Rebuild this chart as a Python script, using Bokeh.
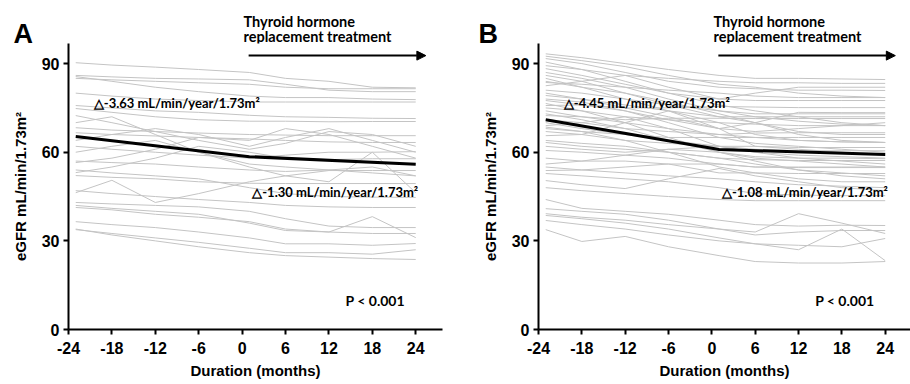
from bokeh.plotting import figure
from bokeh.models import Range1d, FixedTicker, Label, Arrow, NormalHead
from bokeh.layouts import row, column
from bokeh.core.properties import value
from bokeh.embed import file_html
from bokeh.resources import INLINE

# ---------------- data ----------------
months = [-23, -18, -12, -6, 1, 6, 12, 18, 24]
x_ticks = [-24, -18, -12, -6, 0, 6, 12, 18, 24]
x_tick_labels = ["-24", "-18", "-12", "-6", "0", "6", "12", "18", "24"]
y_ticks = [0, 30, 60, 90]
y_tick_labels = ["0", "30", "60", "90"]

mean_months = [-23, 1, 24]
mean_a = [65.3, 58.5, 55.9]
mean_b = [71.0, 60.9, 59.2]

patients_a = [
    [90.3, 89.5, 88.8, 88.0, 87.0, 85.0, 84.0, 82.0, 81.8],
    [86.0, 85.5, 85.0, 84.8, 84.5, 83.0, 81.0, 80.5, 80.5],
    [85.6, 84.0, 82.0, 80.5, 79.0, 78.5, 78.5, 78.0, 77.8],
    [85.0, 84.5, 84.0, 83.5, 83.0, 82.0, 81.5, 81.5, 81.5],
    [75.8, 75.0, 74.0, 73.5, 72.5, 72.0, 71.8, 71.5, 71.4],
    [74.8, 73.5, 72.0, 71.0, 70.5, 70.5, 70.3, 70.4, 70.4],
    [72.4, 70.0, 67.0, 64.0, 61.0, 63.0, 67.0, 66.0, 62.0],
    [68.3, 67.5, 67.0, 66.5, 66.0, 65.8, 65.6, 65.6, 65.6],
    [66.6, 66.0, 65.5, 65.0, 64.5, 64.0, 63.5, 63.3, 63.3],
    [56.5, 58.0, 61.0, 65.0, 64.0, 68.0, 66.0, 62.0, 58.0],
    [53.1, 55.0, 58.0, 62.0, 60.0, 58.0, 57.5, 57.8, 57.8],
    [52.1, 51.5, 51.0, 50.0, 49.5, 49.4, 49.4, 49.4, 49.4],
    [46.3, 50.5, 43.0, 46.0, 50.0, 52.0, 53.8, 53.8, 53.8],
    [43.0, 42.5, 42.0, 41.5, 40.0, 37.5, 35.0, 34.5, 34.5],
    [41.3, 40.5, 39.0, 38.0, 36.5, 34.0, 33.0, 38.2, 31.1],
    [36.5, 35.5, 34.5, 33.0, 31.0, 29.0, 29.0, 28.5, 29.1],
    [33.8, 32.5, 31.0, 29.5, 27.5, 26.0, 26.0, 25.5, 27.0],
    [34.0, 32.0, 30.0, 28.0, 26.0, 25.0, 24.5, 24.0, 23.7],
    [42.0, 41.0, 40.0, 39.0, 36.0, 33.5, 33.0, 32.5, 32.5],
    [70.0, 72.0, 66.0, 60.0, 56.0, 55.0, 54.0, 55.0, 52.0],
    [62.0, 61.0, 60.0, 59.0, 58.0, 59.0, 60.0, 60.0, 60.2],
    [57.0, 56.5, 56.0, 55.0, 54.0, 53.5, 54.0, 53.0, 52.0],
    [54.0, 53.0, 52.0, 51.0, 48.0, 46.0, 45.0, 44.8, 44.7],
    [64.0, 66.0, 68.0, 66.0, 62.0, 65.0, 68.0, 64.0, 60.0],
    [47.0, 46.0, 45.0, 44.0, 43.0, 42.0, 41.5, 41.3, 41.3],
    [60.0, 62.0, 64.0, 60.0, 55.0, 52.0, 50.0, 60.0, 46.3],
    [80.0, 79.0, 78.0, 77.5, 77.0, 77.0, 77.0, 77.0, 77.0],
]

patients_b = [
    [93.3, 92.0, 90.0, 88.0, 86.0, 85.0, 85.0, 84.8, 84.6],
    [91.7, 90.0, 87.0, 84.0, 82.0, 81.5, 81.0, 81.0, 80.9],
    [89.3, 88.0, 86.0, 85.0, 84.0, 83.5, 83.5, 83.3, 83.3],
    [88.3, 86.0, 83.0, 80.0, 76.0, 74.0, 72.0, 70.0, 69.0],
    [83.6, 83.0, 82.0, 81.0, 80.0, 79.0, 78.5, 78.5, 78.5],
    [82.5, 84.0, 86.0, 82.0, 78.0, 77.5, 77.5, 77.5, 77.5],
    [79.2, 78.0, 76.0, 74.0, 72.0, 70.0, 66.0, 64.0, 63.3],
    [77.5, 76.0, 75.0, 75.0, 75.5, 75.3, 75.1, 75.1, 75.1],
    [75.8, 76.0, 74.0, 71.0, 68.0, 70.0, 73.5, 73.4, 73.4],
    [74.0, 72.0, 70.0, 68.0, 66.0, 66.5, 66.6, 66.6, 66.6],
    [72.4, 72.0, 71.0, 71.5, 71.5, 71.4, 71.4, 71.4, 71.4],
    [68.0, 67.0, 66.0, 65.0, 65.0, 65.0, 65.0, 65.0, 65.0],
    [65.6, 66.0, 70.0, 74.0, 68.0, 62.0, 61.6, 61.6, 61.6],
    [63.3, 62.0, 61.0, 60.0, 58.0, 57.5, 57.2, 57.2, 57.2],
    [60.6, 60.0, 59.0, 58.0, 56.0, 55.0, 54.8, 54.8, 54.8],
    [53.8, 54.0, 55.0, 56.0, 53.0, 53.0, 52.8, 52.8, 52.8],
    [52.8, 52.0, 51.0, 50.0, 48.0, 46.0, 45.5, 45.3, 45.3],
    [50.4, 49.0, 47.7, 51.0, 54.5, 52.0, 50.0, 48.0, 47.0],
    [48.0, 47.0, 46.0, 45.0, 44.0, 43.6, 43.6, 43.6, 43.6],
    [44.0, 41.0, 40.0, 39.0, 37.0, 35.5, 35.0, 35.3, 35.2],
    [40.9, 40.0, 39.0, 37.0, 34.0, 32.0, 33.0, 33.5, 33.5],
    [39.2, 38.0, 37.0, 35.5, 34.0, 33.0, 39.2, 36.0, 32.5],
    [38.6, 37.5, 36.0, 34.0, 31.0, 29.0, 28.5, 28.0, 30.8],
    [36.9, 35.5, 34.0, 32.0, 30.0, 29.0, 27.0, 34.0, 23.3],
    [33.8, 29.8, 31.5, 28.0, 25.0, 23.0, 22.5, 22.5, 23.0],
    [92.5, 91.0, 89.0, 86.0, 83.0, 82.0, 80.0, 79.0, 78.5],
    [90.5, 88.0, 84.0, 80.0, 78.0, 80.0, 82.0, 82.0, 82.0],
    [87.0, 85.0, 82.0, 78.0, 74.0, 72.0, 70.5, 69.5, 69.0],
    [85.0, 82.0, 78.0, 74.0, 70.0, 66.0, 64.0, 63.5, 63.3],
    [81.0, 80.0, 78.0, 76.0, 74.0, 73.0, 73.0, 73.0, 73.0],
    [80.0, 78.0, 75.0, 72.0, 68.0, 67.0, 68.0, 69.0, 70.0],
    [78.0, 77.0, 74.0, 70.0, 65.0, 63.0, 62.0, 61.0, 60.0],
    [76.5, 74.0, 72.0, 71.0, 70.0, 69.5, 69.0, 69.0, 69.0],
    [73.0, 71.0, 68.0, 64.0, 60.0, 58.0, 57.0, 56.0, 55.0],
    [71.0, 70.0, 68.0, 67.0, 66.0, 65.0, 64.0, 63.5, 63.3],
    [70.0, 68.0, 66.0, 64.0, 62.0, 60.0, 58.0, 57.0, 56.0],
    [69.0, 70.0, 72.0, 68.0, 62.0, 60.0, 59.0, 58.5, 58.0],
    [67.0, 66.0, 64.0, 63.0, 62.0, 61.0, 60.5, 60.5, 60.5],
    [64.0, 63.0, 62.0, 60.0, 58.0, 56.0, 54.0, 53.0, 52.0],
    [62.0, 61.0, 60.0, 61.0, 62.0, 62.0, 61.0, 60.0, 59.0],
    [58.0, 57.0, 57.0, 56.0, 56.0, 55.0, 55.0, 55.0, 55.0],
    [56.0, 57.0, 59.0, 61.0, 60.0, 57.0, 54.0, 52.0, 51.0],
    [84.0, 82.0, 80.0, 77.0, 73.0, 70.0, 67.0, 66.0, 66.0],
    [86.0, 84.0, 80.0, 76.0, 72.0, 72.0, 72.0, 72.0, 72.0],
    [75.0, 74.0, 70.0, 65.0, 60.0, 58.5, 58.0, 58.0, 57.8],
    [68.5, 67.0, 64.0, 60.0, 55.0, 53.0, 51.0, 50.0, 50.0],
    [55.0, 54.0, 53.0, 52.0, 51.0, 50.0, 49.0, 48.5, 48.0],
]

panel_letters = ["A", "B"]
slope_text_a = ["\u25b3-3.63 mL/min/year/1.73m\u00b2", "\u25b3-1.30 mL/min/year/1.73m\u00b2"]
slope_text_b = ["\u25b3-4.45 mL/min/year/1.73m\u00b2", "\u25b3-1.08 mL/min/year/1.73m\u00b2"]
p_text = "P < 0.001"
treat_text = ["Thyroid hormone", "replacement treatment"]
x_label = "Duration (months)"
y_label = "eGFR mL/min/1.73m\u00b2"

FONT = "Liberation Sans"
ANN_FONT = "Lato"

# ---------------- header (panel letters + treatment caption) ----------------
# 54 px tall, its lowest 11 px sit underneath the panels (negative margin)
header = figure(width=910, height=54, x_range=Range1d(0, 910), y_range=Range1d(54, 0),
                x_axis_location=None, y_axis_location=None, output_backend="svg",
                toolbar_location=None, min_border=0, styles={"margin-bottom": "-11px"})
header.outline_line_color = None
header.xgrid.grid_line_color = None
header.ygrid.grid_line_color = None
header.text(x=[13, 478], y=[33, 33], text=panel_letters, text_font=value(FONT),
            text_font_style="bold", text_font_size="27px", text_baseline="alphabetic",
            text_color="black")
header.text(x=[243, 243, 713, 713], y=[21, 36, 21, 36], text=treat_text * 2,
            text_font=value(ANN_FONT), text_font_style="bold", text_font_size="14.5px",
            text_baseline="alphabetic", text_color="black")


def make_panel(patients, mean_vals, slopes, border_left, border_right, x_end):
    p = figure(width=455, height=341, x_range=Range1d(-24, x_end), y_range=Range1d(0, 96.8),
               output_backend="svg", toolbar_location=None,
               min_border_left=border_left, min_border_right=border_right,
               min_border_top=0, min_border_bottom=55)
    p.outline_line_color = None
    p.xgrid.grid_line_color = None
    p.ygrid.grid_line_color = None

    for ax, ticks, labels in ((p.xaxis, x_ticks, x_tick_labels), (p.yaxis, y_ticks, y_tick_labels)):
        ax.ticker = FixedTicker(ticks=ticks)
        ax.major_label_overrides = {t: l for t, l in zip(ticks, labels)}
        ax.axis_line_width = 2
        ax.axis_line_color = "black"
        ax.major_tick_line_width = 2
        ax.major_tick_line_color = "black"
        ax.major_tick_out = 5
        ax.major_tick_in = 0
        ax.minor_tick_line_color = None
        ax.major_label_text_font = FONT
        ax.major_label_text_font_style = "bold"
        ax.major_label_text_font_size = "16px"
        ax.major_label_text_color = "black"
        ax.axis_label_text_font = FONT
        ax.axis_label_text_font_style = "bold"
        ax.axis_label_text_font_size = "15px"
        ax.axis_label_text_color = "black"
    p.xaxis.axis_label = x_label
    p.yaxis.axis_label = y_label
    p.xaxis.major_label_standoff = 7
    p.yaxis.major_label_standoff = 4
    p.xaxis.axis_label_standoff = 5
    p.yaxis.axis_label_standoff = 10

    p.multi_line(xs=[months] * len(patients), ys=patients, line_color="#c4c4c4", line_width=1)
    p.line(mean_months, mean_vals, line_color="black", line_width=3)

    p.add_layout(Arrow(end=NormalHead(size=9, fill_color="black", line_color="black"),
                       x_start=0.9, y_start=92.7, x_end=25.4, y_end=92.7,
                       line_width=2, line_color="black"))
    p.add_layout(Label(x=-20.5, y=76.6, text=slopes[0], text_font=ANN_FONT, text_font_style="bold",
                       text_font_size="13px", text_baseline="middle", text_color="black"))
    p.add_layout(Label(x=1.4, y=46.6, text=slopes[1], text_font=ANN_FONT, text_font_style="bold",
                       text_font_size="13px", text_baseline="middle", text_color="black"))
    p.add_layout(Label(x=14.3, y=9.8, text=p_text, text_font=ANN_FONT, text_font_style="bold",
                       text_font_size="14px", text_baseline="middle", text_color="black"))
    return p


pA = make_panel(patients_a, mean_a, slope_text_a, 68, 13, 27.7)
pB = make_panel(patients_b, mean_b, slope_text_b, 83, 0, 27.5)

layout = column(header, row(pA, pB))
open("out.html", "w").write(file_html(layout, INLINE))
